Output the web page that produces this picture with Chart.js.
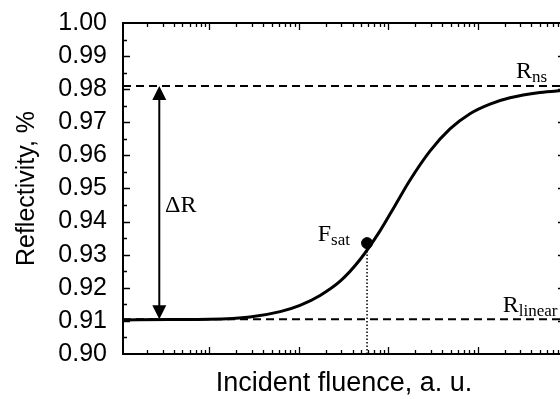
<!DOCTYPE html>
<html>
<head>
<meta charset="utf-8">
<script src="https://cdn.jsdelivr.net/npm/chart.js@4.4.1/dist/chart.umd.min.js"></script>
<style>
  html, body { margin: 0; padding: 0; background: #fff; overflow: hidden; }
  #wrap { position: relative; width: 575px; height: 399px; }
</style>
</head>
<body>
<div id="wrap"><canvas id="refl_chart"></canvas></div>
<script>
// saturation curve: incident fluence (a. u.) vs reflectivity
var fluence = [0.108, 0.36, 1, 2.85, 6.2, 10.3, 17.3, 29, 48, 81, 119, 175, 293, 491, 822, 1376, 2304, 4990, 9500];
var reflectivity = [0.9103, 0.9104, 0.9105, 0.9112, 0.9128, 0.9147, 0.9177, 0.9220, 0.9284, 0.9372,
                    0.9448, 0.9525, 0.9613, 0.9680, 0.9726, 0.9755, 0.9774, 0.9790, 0.9797];

// axis ranges
var xMin = 0.108, xMax = 9500;
var yMin = 0.90, yMax = 1.00;

// reference levels and saturation point
var rNs = 0.981;
var rLinear = 0.9105;
var fSat = 58;
var rSatDot = 0.9335;
var rSatCurve = 0.9313;
var fArrow = 0.275;

var curvePoints = fluence.map(function(f, i) { return {x: f, y: reflectivity[i]}; });

var serif = '"Liberation Serif", "Times New Roman", serif';
var sans = '"Liberation Sans", Arial, sans-serif';

function labelSub(c, main, sub, x, y) {
    c.font = '24px ' + serif;
    c.textAlign = 'left';
    c.textBaseline = 'alphabetic';
    c.fillText(main, x, y);
    var w = c.measureText(main).width;
    c.font = '17px ' + serif;
    c.fillText(sub, x + w, y + 4);
}

// frame with inward ticks on all four sides, arrow and text labels
var frameTicks = {
    id: 'frameTicks',
    afterDatasetsDraw: function(chart) {
        var c = chart.ctx, a = chart.chartArea;
        var xs = chart.scales.x, ys = chart.scales.y;
        c.save();
        c.strokeStyle = '#000';
        c.fillStyle = '#000';
        c.lineWidth = 2;
        c.strokeRect(a.left, a.top, a.right - a.left, a.bottom - a.top);

        c.lineWidth = 1.3;
        c.beginPath();
        for (var e = -1; e <= 4; e++) {
            for (var k = 1; k <= 9; k++) {
                var v = k * Math.pow(10, e);
                if (v <= xs.min || v >= xs.max) continue;
                var px = Math.round(xs.getPixelForValue(v)) + 0.5;
                var len = k === 1 ? 7 : 4;
                c.moveTo(px, a.bottom); c.lineTo(px, a.bottom - len);
                c.moveTo(px, a.top); c.lineTo(px, a.top + len);
            }
        }
        for (var i = 1; i < 20; i++) {
            var py = Math.round(ys.getPixelForValue(yMin + i * 0.005)) + 0.5;
            var l2 = i % 2 === 0 ? 7 : 4;
            c.moveTo(a.left, py); c.lineTo(a.left + l2, py);
            c.moveTo(a.right, py); c.lineTo(a.right - l2, py);
        }
        c.stroke();

        // ΔR double arrow between the two levels
        var ax = xs.getPixelForValue(fArrow);
        var yTop = ys.getPixelForValue(rNs), yBot = ys.getPixelForValue(rLinear);
        c.lineWidth = 2;
        c.beginPath();
        c.moveTo(ax, yTop + 10); c.lineTo(ax, yBot - 10);
        c.stroke();
        c.beginPath();
        c.moveTo(ax, yTop); c.lineTo(ax - 7, yTop + 14); c.lineTo(ax + 7, yTop + 14); c.closePath();
        c.moveTo(ax, yBot); c.lineTo(ax - 7, yBot - 14); c.lineTo(ax + 7, yBot - 14); c.closePath();
        c.fill();

        c.font = '24px ' + serif;
        c.textAlign = 'left';
        c.textBaseline = 'alphabetic';
        c.fillText('\u0394R', xs.getPixelForValue(0.319), ys.getPixelForValue(0.9430));
        labelSub(c, 'F', 'sat', xs.getPixelForValue(16.3), ys.getPixelForValue(0.9342));
        labelSub(c, 'R', 'ns', xs.getPixelForValue(2690), ys.getPixelForValue(0.9835));
        labelSub(c, 'R', 'linear', xs.getPixelForValue(1910), ys.getPixelForValue(0.9127));
        c.restore();
    }
};

var ctx = document.getElementById("refl_chart");
new Chart(ctx, {
    type: 'line',
    data: {
        datasets: [
            {
                data: curvePoints,
                borderColor: '#000',
                borderWidth: 3,
                pointRadius: 0,
                cubicInterpolationMode: 'monotone',
                fill: false
            },
            {
                data: [{x: xMin, y: rNs}, {x: xMax, y: rNs}],
                borderColor: '#000',
                borderWidth: 2,
                borderDash: [8, 5],
                pointRadius: 0
            },
            {
                data: [{x: xMin, y: rLinear}, {x: xMax, y: rLinear}],
                borderColor: '#000',
                borderWidth: 2,
                borderDash: [8, 5],
                pointRadius: 0
            },
            {
                data: [{x: fSat, y: yMin}, {x: fSat, y: rSatCurve}],
                borderColor: '#000',
                borderWidth: 1.5,
                borderDash: [1.5, 2],
                pointRadius: 0
            },
            {
                type: 'scatter',
                data: [{x: fSat, y: rSatDot}],
                pointRadius: 5.5,
                backgroundColor: '#000',
                borderColor: '#000'
            }
        ]
    },
    options: {
        responsive: true,
        maintainAspectRatio: false,
        animation: false,
        layout: { padding: { top: 19, right: 10, left: 0, bottom: 0 } },
        plugins: { legend: { display: false }, tooltip: { enabled: false } },
        scales: {
            x: {
                type: 'logarithmic',
                min: xMin,
                max: xMax,
                grid: { display: false },
                border: { display: false },
                ticks: { display: false },
                title: {
                    display: true,
                    text: 'Incident fluence, a. u.',
                    color: '#000',
                    font: { family: sans, size: 27, lineHeight: 1 },
                    padding: { top: 0, bottom: 2 }
                },
                afterFit: function(s) { s.height = 45; }
            },
            y: {
                min: yMin,
                max: yMax,
                grid: { display: false },
                border: { display: false },
                ticks: {
                    stepSize: 0.01,
                    color: '#000',
                    padding: 8,
                    font: { family: sans, size: 25 },
                    callback: function(v) { return v.toFixed(2); }
                },
                title: {
                    display: true,
                    text: 'Reflectivity, %',
                    color: '#000',
                    font: { family: sans, size: 25, lineHeight: 1 },
                    padding: { top: 15, bottom: 0 }
                },
                afterFit: function(s) { s.width = 123; }
            }
        }
    },
    plugins: [frameTicks]
});
</script>
</body>
</html>
